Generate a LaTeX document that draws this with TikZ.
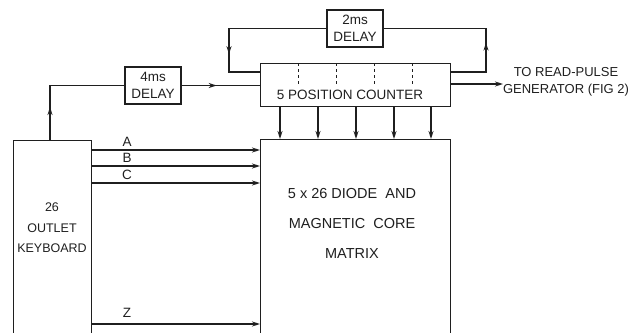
\documentclass[tikz,border=0pt]{standalone}
\usepackage{fontspec}
\setmainfont{Liberation Sans}
\usetikzlibrary{arrows.meta,decorations.markings}
\definecolor{ink}{gray}{0.12}
\begin{document}
\begin{tikzpicture}[x=1pt,y=-1pt,
  line width=1.35pt, draw=ink, color=ink,
  box/.style={draw=ink, rectangle, inner sep=0pt},
  lbl/.style={font=\fontsize{13.5}{17}\selectfont, align=center, inner sep=0pt, text=ink},
  arr/.style={-{Stealth[length=8pt,width=5pt]}},
  midarr/.style={postaction={decorate}, decoration={markings, mark=at position #1 with {\arrow{Stealth[length=8pt,width=5pt]}}}},
  divider/.style={line width=1pt, dash pattern=on 3pt off 3pt}
]
\useasboundingbox (0,0) rectangle (636,332);
\clip (0,0) rectangle (636,332);

% blocks
\node[box, anchor=north west, minimum width=78pt, minimum height=230pt] (kb) at (13,140) {};
\node[box, anchor=north west, minimum width=190pt, minimum height=230pt] (mx) at (260,139) {};
\node[box, anchor=north west, minimum width=190pt, minimum height=43pt] (ctr) at (260,63) {};
\node[box, lbl, minimum width=56pt, minimum height=37pt] (d4) at (153,85.5) {4ms\\DELAY};
\node[box, lbl, minimum width=56pt, minimum height=37pt] (d2) at (355,28.5) {2ms\\DELAY};

% texts
\node[lbl, font=\fontsize{12.5}{20.5}\selectfont] (kbt) at (52,228) {26\\OUTLET\\KEYBOARD};
\node[lbl, font=\fontsize{14.5}{30}\selectfont] (mxt) at (352,223) {5 x 26 DIODE \ AND\\MAGNETIC \ CORE\\MATRIX};
\node[lbl] (ctrt) at (350,95) {5 POSITION COUNTER};
\node[lbl, font=\fontsize{13}{17}\selectfont] (out) at (566,82) {TO READ-PULSE\\GENERATOR (FIG 2)};

% counter dividers
\foreach \x in {298,336,374,412}
  \draw[divider] (ctr.north -| \x,0) -- (\x,84);

% counter outputs to matrix
\foreach \x in {280,318,356,394,431}
  \draw[arr] (ctr.south -| \x,0) -- (mx.north -| \x,0);

% keyboard to 4ms delay to counter
\draw[midarr=33pt] (kb.north -| 50,0) |- (d4.west);
\draw[midarr=35pt] (d4.east) -- (ctr.west |- d4.east);

% 2ms delay loop
\draw[midarr=123pt] (d2.west) -- (229,28.5) -- (229,72) -- (ctr.west |- 0,72);
\draw[midarr=64pt] (ctr.east |- 0,72) -- (486,72) -- (486,28.5) -- (d2.east);

% output
\coordinate (outend) at (503,84);
\draw[arr] (ctr.east |- outend) -- (outend);

% keyboard lines
\draw[arr] (kb.east |- 0,150) -- (mx.west |- 0,150);
\draw[arr] (kb.east |- 0,166) -- (mx.west |- 0,166);
\draw[arr] (kb.east |- 0,183) -- (mx.west |- 0,183);
\draw[arr] (kb.east |- 0,324) -- (mx.west |- 0,324);
\node[lbl] (la) at (127,142) {A};
\node[lbl] (lb) at (127,158) {B};
\node[lbl] (lc) at (127,175) {C};
\node[lbl] (lz) at (127,313) {Z};
\end{tikzpicture}
\end{document}
